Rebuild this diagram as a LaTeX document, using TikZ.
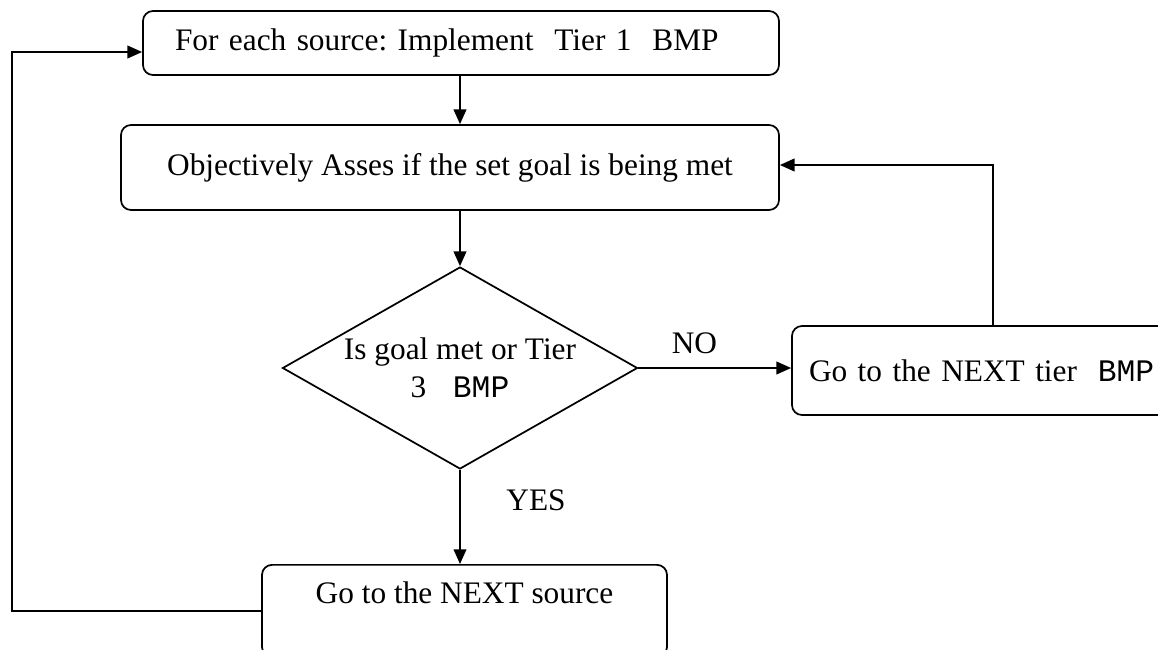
\documentclass[tikz,border=0pt]{standalone}
\usepackage{fontspec}
\setmainfont{Liberation Serif}
\setmonofont{Liberation Mono}
\usetikzlibrary{arrows.meta,shapes.geometric}
\frenchspacing
\tikzset{
  base/.style={font=\fontsize{23.5pt}{28.5pt}\selectfont},
  rbox/.style={base,draw,line width=1.3pt,rounded corners=7.5pt},
  dia/.style={base,draw,line width=1.3pt,diamond,aspect=1.76,inner sep=0pt,align=center},
  conn/.style={line width=1.3pt},
  arr/.style={conn,-{Triangle[length=11pt,width=9.5pt]}},
  lbl/.style={base,inner sep=0pt}
}
\begin{document}
\begin{tikzpicture}[x=0.75pt,y=-0.75pt]
\useasboundingbox (0,0) rectangle (1158,650);
\clip (0,0) rectangle (1158,650);
\node[rbox,minimum height=48pt,text width=429pt,inner xsep=24pt,align=left] (b1) at (461,43)
  {\frenchspacing For each source: Implement\ \ Tier 1\ \ BMP};
\node[rbox,minimum width=493.5pt,minimum height=63.75pt] (b2) at (450,167.5)
  {Objectively Asses if the set goal is being met};
\node[dia,minimum width=266.25pt,minimum height=151.5pt] (d) at (460,368)
  {Is goal met or Tier\\3 {\ttfamily\ BMP}};
\node[rbox,minimum height=66.75pt,text width=259.5pt,inner xsep=12.75pt,align=left] (rb) at (982,370.5)
  {Go to the NEXT tier {\ttfamily\ BMP}};
\node[rbox,anchor=north,minimum width=303.75pt,inner ysep=0pt,text height=29.25pt,text depth=39.75pt] (bb) at (464.5,564)
  {Go to the NEXT source};
\node[lbl] (no) at (694.5,343) {NO};
\node[lbl] (yes) at (536,500) {YES};
\coordinate (up) at (993,165);
\coordinate (lp) at (12,52);
\draw[arr] (d.north |- b1.south) -- (d.north |- b2.north);
\draw[arr] (d.north |- b2.south) -- (d.north);
\draw[arr] (d.east) -- (d.east -| rb.west);
\draw[arr] (rb.north -| up) -- (up) -- (up -| b2.east);
\draw[arr] (d.south) -- (d.south |- bb.north);
\draw[arr] (bb.west) -| (lp) -- (lp -| b1.west);
\end{tikzpicture}
\end{document}
